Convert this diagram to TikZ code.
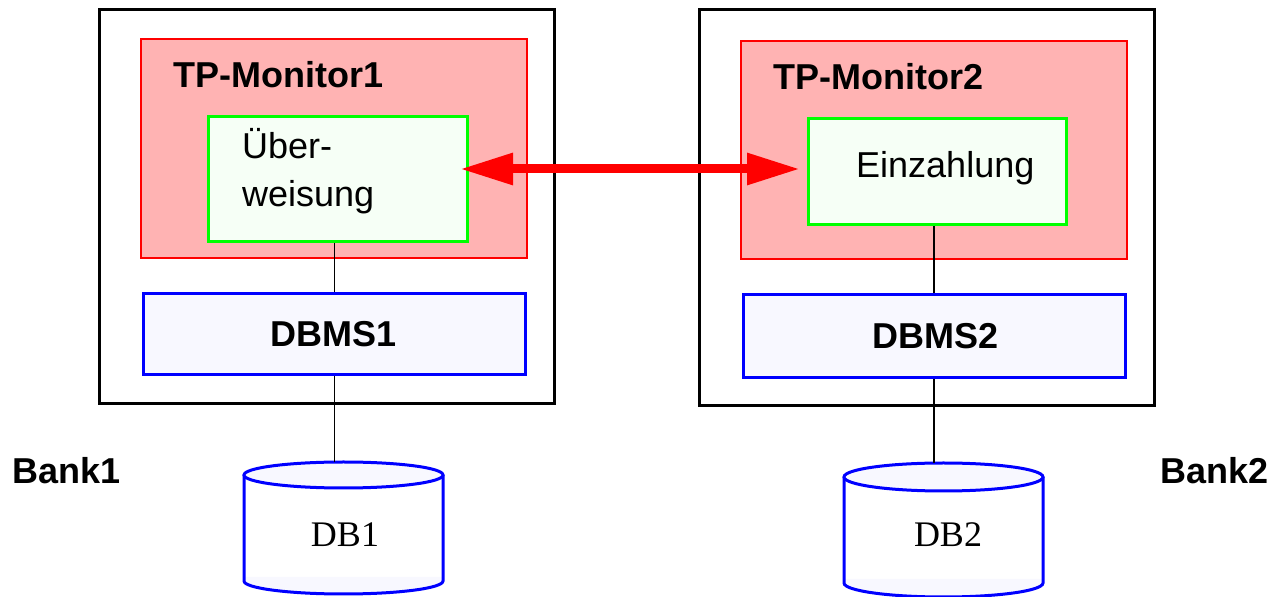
\documentclass[tikz,border=0pt]{standalone}
\usepackage{fontspec}
\setmainfont{Liberation Serif}
\setsansfont{Liberation Sans}
\usetikzlibrary{arrows.meta}
\definecolor{monfill}{HTML}{FFB3B3}
\definecolor{appfill}{HTML}{F6FFF6}
\definecolor{dbfill}{HTML}{F8F8FF}
\tikzset{
  bankbox/.style={draw=black, line width=3pt},
  monbox/.style={draw=red, fill=monfill, line width=2pt},
  appbox/.style={draw=green, fill=appfill, line width=3pt},
  dbmsbox/.style={draw=blue, fill=dbfill, line width=3pt},
  bigbold/.style={font=\sffamily\bfseries\fontsize{36}{43}\selectfont, inner sep=0pt},
  bigreg/.style={font=\sffamily\fontsize{36}{43}\selectfont, inner sep=0pt},
  dbtext/.style={font=\rmfamily\fontsize{36}{43}\selectfont, inner sep=0pt},
  link/.style={draw=black, line width=1.8pt},
  cylline/.style={draw=blue, line width=3pt},
  msgarrow/.style={draw=red, line width=9pt, {Triangle[length=53pt,width=30pt]}-{Triangle[length=53pt,width=30pt]}},
}
\begin{document}
\begin{tikzpicture}[x=1pt,y=1pt]
\useasboundingbox (0,0) rectangle (1278,597);

% Bank 1
\node[bankbox, minimum width=455pt, minimum height=394pt, inner sep=0pt, anchor=north west] (bank1) at (98,589) {};
\node[monbox, minimum width=386pt, minimum height=219pt, inner sep=0pt, anchor=north west] (mon1) at (140,559) {};
\node[appbox, minimum width=259pt, minimum height=125pt, inner sep=0pt, anchor=north west] (app1) at (207,482) {};
\node[dbmsbox, minimum width=382pt, minimum height=81pt, inner sep=0pt, anchor=north west] (dbms1) at (142,305) {};
\node[bigbold, anchor=base west] (mon1t) at (173,509) {TP-Monitor1};
\node[bigreg, anchor=base west] (app1a) at (242,438) {Über-};
\node[bigreg, anchor=base west] (app1b) at (242,390) {weisung};
\node[bigbold, anchor=base] (dbms1t) at (334,250) {DBMS1};

% Bank 2
\node[bankbox, minimum width=455pt, minimum height=396pt, inner sep=0pt, anchor=north west] (bank2) at (698,589) {};
\node[monbox, minimum width=386pt, minimum height=218pt, inner sep=0pt, anchor=north west] (mon2) at (740,557) {};
\node[appbox, minimum width=258pt, minimum height=106pt, inner sep=0pt, anchor=north west] (app2) at (807,480) {};
\node[dbmsbox, minimum width=382pt, minimum height=83pt, inner sep=0pt, anchor=north west] (dbms2) at (742,304) {};
\node[bigbold, anchor=base west] (mon2t) at (773,507) {TP-Monitor2};
\node[bigreg, anchor=base west] (app2t) at (856,419) {Einzahlung};
\node[bigbold, anchor=base] (dbms2t) at (936,248) {DBMS2};

% Bank labels
\node[bigbold, anchor=base west] (bank1t) at (12,113) {Bank1};
\node[bigbold, anchor=base west] (bank2t) at (1160,113) {Bank2};

% Cylinder 1
\fill[white] (244,122) -- (244,16) arc[start angle=180, end angle=360, x radius=99.5, y radius=13] -- (443,122) -- cycle;
\fill[dbfill] (244,16) arc[start angle=180, end angle=360, x radius=99.5, y radius=13] -- (443,20) -- (244,20) -- cycle;
\draw[cylline] (244,122) -- (244,16) arc[start angle=180, end angle=360, x radius=99.5, y radius=13] -- (443,122);
\draw[cylline, fill=dbfill] (343.5,122) ellipse[x radius=99.5, y radius=13];
\coordinate (db1top) at (343.5,135);
\node[dbtext, anchor=base] (db1) at (345,50) {DB1};

% Cylinder 2
\fill[white] (844,120) -- (844,14) arc[start angle=180, end angle=360, x radius=99.5, y radius=14] -- (1043,120) -- cycle;
\fill[dbfill] (844,14) arc[start angle=180, end angle=360, x radius=99.5, y radius=14] -- (1043,18) -- (844,18) -- cycle;
\draw[cylline] (844,120) -- (844,14) arc[start angle=180, end angle=360, x radius=99.5, y radius=14] -- (1043,120);
\draw[cylline, fill=dbfill] (943.5,120) ellipse[x radius=99.5, y radius=14];
\coordinate (db2top) at (943.5,134);
\node[dbtext, anchor=base] (db2) at (948,50) {DB2};

% Connectors
\draw[link] (app1.south -| dbms1.north) -- (dbms1.north);
\draw[link] (dbms1.south) -- (dbms1.south |- db1top);
\draw[link] (app2.south -| 934,0) -- (dbms2.north -| 934,0);
\draw[link] (dbms2.south -| 934,0) -- (db2top -| 934,0);

% Message arrow
\coordinate (ar1) at (460,428);
\coordinate (ar2) at (800,428);
\draw[msgarrow] (ar1) -- (ar2);
\end{tikzpicture}
\end{document}
